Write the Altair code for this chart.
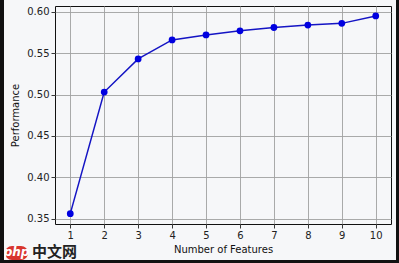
import altair as alt
import pandas as pd

features = [1, 2, 3, 4, 5, 6, 7, 8, 9, 10]
performance = [0.356, 0.503, 0.543, 0.566, 0.572, 0.577, 0.581, 0.584, 0.586, 0.595]
x_ticks = [1, 2, 3, 4, 5, 6, 7, 8, 9, 10]
y_ticks = [0.35, 0.40, 0.45, 0.50, 0.55, 0.60]
x_title = "Number of Features"
y_title = "Performance"

df = pd.DataFrame({"features": features, "performance": performance})

x = alt.X("features:Q",
          scale=alt.Scale(domain=[0.55, 10.45], nice=False, zero=False),
          axis=alt.Axis(values=x_ticks, format="d", title=x_title, titlePadding=4, labelPadding=2))
y = alt.Y("performance:Q",
          scale=alt.Scale(domain=[0.3435, 0.607], nice=False, zero=False),
          axis=alt.Axis(values=y_ticks, format=".2f", title=y_title, titlePadding=6, labelPadding=2))

line = alt.Chart(df).mark_line(color="#1414c4", strokeWidth=1.5).encode(x=x, y=y)
pts = alt.Chart(df).mark_point(filled=True, color="#0000e0", size=46, opacity=1).encode(x=x, y=y)

one = pd.DataFrame({"a": [0]})
deco = alt.Chart(one)
left_bar = deco.mark_rect(color="#111111").encode(
    x=alt.value(-55), x2=alt.value(-51), y=alt.value(-6), y2=alt.value(257))
right_bar = deco.mark_rect(color="#111111").encode(
    x=alt.value(341), x2=alt.value(344), y=alt.value(-6), y2=alt.value(257))
bottom_bar = deco.mark_rect(color="#111111").encode(
    x=alt.value(-55), x2=alt.value(344), y=alt.value(254), y2=alt.value(257))
wm_oval = deco.mark_rect(color="#d8352f", cornerRadius=7, opacity=1).encode(
    x=alt.value(-50), x2=alt.value(-27), y=alt.value(240), y2=alt.value(254))
wm_php = deco.mark_text(text="php", color="white", font="DejaVu Sans", fontSize=12,
                        fontStyle="italic", fontWeight="bold").encode(
    x=alt.value(-38.5), y=alt.value(246))
wm_cn = deco.mark_text(text="中文网", color="#222222", font="Noto Sans CJK SC", fontSize=15,
                       fontWeight="bold", align="left").encode(
    x=alt.value(-23), y=alt.value(246))

chart = alt.layer(line, pts, wm_oval, wm_php, wm_cn, left_bar, right_bar, bottom_bar).properties(
    width=336, height=218,
    autosize=alt.AutoSizeParams(type="none"),
    padding={"left": 55, "top": 6, "right": 8, "bottom": 39},
    background="#f6f7f9",
).configure_view(
    stroke="#111111", strokeWidth=1, fill="#f6f7f9"
).configure_axis(
    domain=False,
    grid=True, gridColor="#a0a0a0", gridWidth=0.9, gridOpacity=1,
    tickColor="#222222", tickSize=4, tickWidth=0.9,
    labelFont="DejaVu Sans", labelFontSize=10, labelColor="#222222",
    titleFont="DejaVu Sans", titleFontSize=10, titleFontWeight="normal", titleColor="#111111",
)

chart.save("out.html", embed_options={"renderer": "svg", "actions": False})
